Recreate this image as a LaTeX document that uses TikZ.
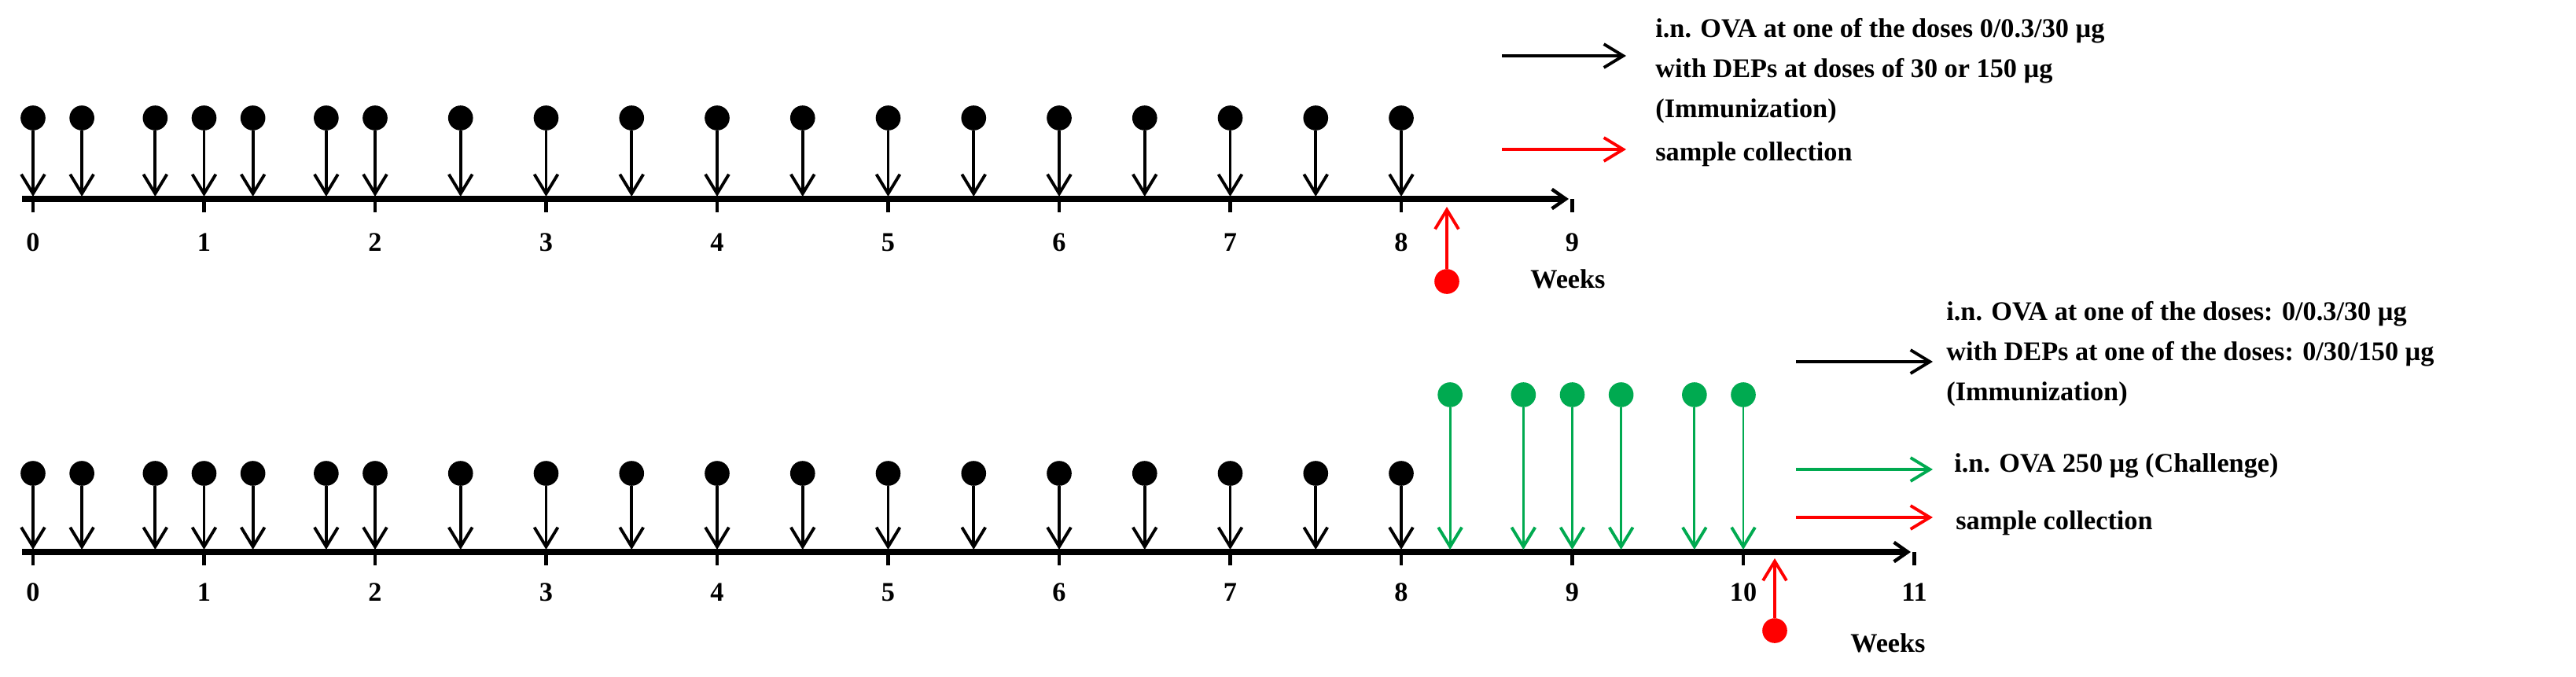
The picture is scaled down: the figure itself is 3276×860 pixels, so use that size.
\documentclass[tikz,border=0pt]{standalone}
\usepackage{fontspec}
\setmainfont{Liberation Serif}
\usetikzlibrary{arrows.meta}
\definecolor{grn}{RGB}{0,170,80}
\definecolor{rd}{RGB}{255,0,0}
\begin{document}
\begin{tikzpicture}[x=0.02cm,y=-0.02cm,
  ball/.style={circle,fill=#1,inner sep=0pt,minimum size=18pt},
  dose/.style={draw=#1,line width=2.2pt,-{Straight Barb[length=14pt,width=17pt,line width=2.2pt]}},
  axis/.style={line width=4.5pt,-{Straight Barb[length=10pt,width=14pt,line width=2.5pt]}},
  tick/.style={line width=2.5pt},
  lbl/.style={font=\fontsize{19.5}{22}\selectfont\bfseries,inner sep=0pt},
  txt/.style={font=\fontsize{19.5}{29}\selectfont\bfseries,inner sep=0pt,anchor=west,align=left}]
\useasboundingbox (0,0) rectangle (3276,860);
% ---------- top panel ----------
\coordinate (a0) at (28,253); \coordinate (a1) at (1995,253);
\draw[axis] (a0) -- (a1);
\foreach \w in {0,...,9}{
  \coordinate (tt\w) at ({42+\w*217.5},253);
  \coordinate (tb\w) at ({42+\w*217.5},270);
  \draw[tick] (tt\w) -- (tb\w);
  \node[lbl] (tl\w) at ({42+\w*217.5},308) {\w};}
\foreach \w [count=\i] in {0,0.2857,0.7143,1,1.2857,1.7143,2,2.5,3,3.5,4,4.5,5,5.5,6,6.5,7,7.5,8}{
  \node[ball=black] (tb-\i) at ({42+\w*217.5},150) {};
  \coordinate (ta-\i) at ({42+\w*217.5},250);
  \draw[dose=black] (tb-\i) -- (ta-\i);}
\node[ball=rd] (rs1) at (1840,358) {};
\coordinate (rs1e) at (1840,263);
\draw[dose=rd] (rs1) -- (rs1e);
\node[lbl,anchor=west] (wk1) at (1946,355) {Weeks};
\coordinate (l1a) at (1910,71); \coordinate (l1b) at (2068,71);
\draw[dose=black] (l1a) -- (l1b);
\node[txt] (l1t) at (2105,90) {i.n. OVA at one of the doses 0/0.3/30 µg\\with DEPs at doses of 30 or 150 µg\\(Immunization)};
\coordinate (l2a) at (1910,190); \coordinate (l2b) at (2068,190);
\draw[dose=rd] (l2a) -- (l2b);
\node[txt] (l2t) at (2105,196) {sample collection};
% ---------- bottom panel ----------
\coordinate (b0) at (28,702); \coordinate (b1) at (2430,702);
\draw[axis] (b0) -- (b1);
\foreach \w in {0,...,11}{
  \coordinate (bt\w) at ({42+\w*217.5},702);
  \coordinate (bb\w) at ({42+\w*217.5},719);
  \draw[tick] (bt\w) -- (bb\w);
  \node[lbl] (bl\w) at ({42+\w*217.5},753) {\w};}
\foreach \w [count=\i] in {0,0.2857,0.7143,1,1.2857,1.7143,2,2.5,3,3.5,4,4.5,5,5.5,6,6.5,7,7.5,8}{
  \node[ball=black] (bk-\i) at ({42+\w*217.5},602) {};
  \coordinate (bka-\i) at ({42+\w*217.5},699);
  \draw[dose=black] (bk-\i) -- (bka-\i);}
\foreach \w [count=\i] in {8.2857,8.7143,9,9.2857,9.7143,10}{
  \node[ball=grn] (gk-\i) at ({42+\w*217.5},502) {};
  \coordinate (gka-\i) at ({42+\w*217.5},699);
  \draw[dose=grn,line width=1.6pt] (gk-\i) -- (gka-\i);}
\node[ball=rd] (rs2) at (2257,802) {};
\coordinate (rs2e) at (2257,710);
\draw[dose=rd] (rs2) -- (rs2e);
\node[lbl,anchor=west] (wk2) at (2353,818) {Weeks};
\coordinate (m1a) at (2284,460); \coordinate (m1b) at (2458,460);
\draw[dose=black] (m1a) -- (m1b);
\node[txt] (m1t) at (2475,450) {i.n. OVA at one of the doses: 0/0.3/30 µg\\with DEPs at one of the doses: 0/30/150 µg\\(Immunization)};
\coordinate (m2a) at (2284,597); \coordinate (m2b) at (2458,597);
\draw[dose=grn] (m2a) -- (m2b);
\node[txt] (m2t) at (2485,592) {i.n. OVA 250 µg (Challenge)};
\coordinate (m3a) at (2284,658); \coordinate (m3b) at (2458,658);
\draw[dose=rd] (m3a) -- (m3b);
\node[txt] (m3t) at (2487,665) {sample collection};
\end{tikzpicture}
\end{document}
